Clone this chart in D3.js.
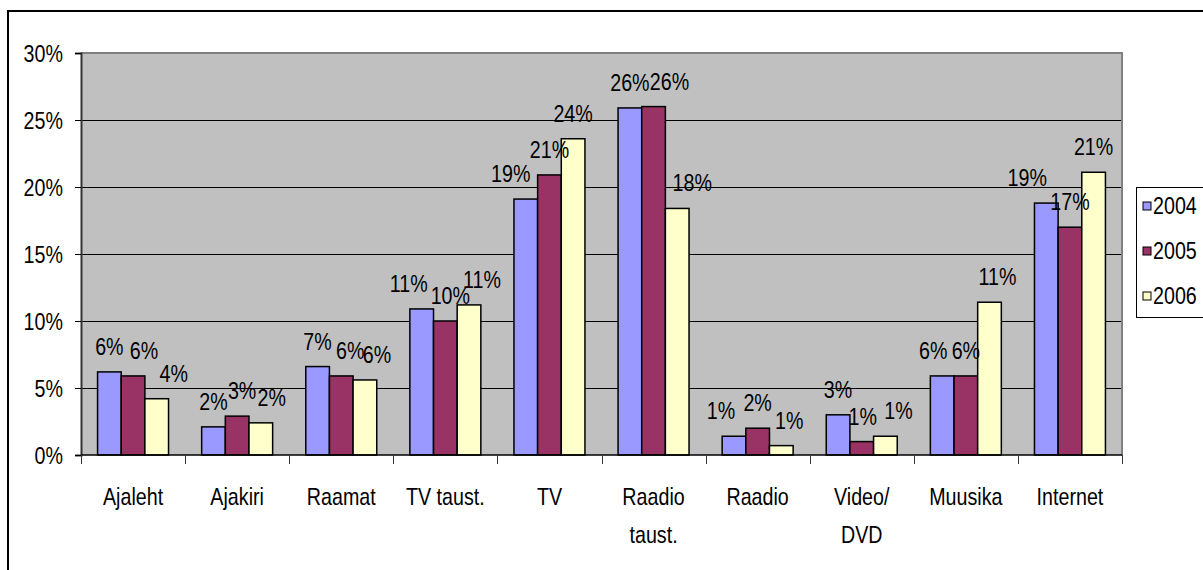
<!DOCTYPE html>
<meta charset="utf-8">

<head>
    <title>Meedia kasutus 2004-2006</title>
    <script type="text/javascript" src="https://cdn.jsdelivr.net/npm/d3@7"></script>
    <style>
        body {
            margin: 0;
            background: #fff;
        }

        text {
            font-family: "Liberation Sans", Arial, sans-serif;
            font-size: 24px;
            fill: #000;
        }
    </style>
</head>

<body>
    <div id="chart"></div>

    <script>
        // data (percent)
        var categories = ["Ajaleht", "Ajakiri", "Raamat", "TV taust.", "TV", "Raadio\ntaust.", "Raadio", "Video/\nDVD", "Muusika", "Internet"];
        var seriesNames = ["2004", "2005", "2006"];
        var s2004 = [6.2, 2.1, 6.6, 10.9, 19.1, 25.9, 1.4, 3.0, 5.9, 18.8];
        var s2005 = [5.9, 2.9, 5.9, 10.0, 20.9, 26.0, 2.0, 1.0, 5.9, 17.0];
        var s2006 = [4.2, 2.4, 5.6, 11.2, 23.6, 18.4, 0.7, 1.4, 11.4, 21.1];
        var yTicks = [0, 5, 10, 15, 20, 25, 30];

        var colors = ["#9999FF", "#993366", "#FFFFCC"];

        // small horizontal nudges of the value labels (they do not sit centred in the original)
        var labelDx = [
            [0, 11, 17], [0, 5, 11], [0, 9, 12], [-13, 5, 13], [-15, 0, 0],
            [0, 16, 15], [-13, 0, 8], [0, 1, 13], [-9, 0, 8], [-19, 0, 0]
        ];

        var width = 1203;
        var height = 570;
        var plot = { left: 81, right: 1122, top: 53, bottom: 455 };
        var squeeze = 0.82; // narrow font look

        var svg = d3.select("#chart")
            .append("svg")
            .attr("width", width)
            .attr("height", height);

        var x = d3.scaleBand()
            .domain(categories)
            .range([plot.left, plot.right])
            .padding(0);

        var x1 = d3.scaleBand()
            .domain(seriesNames)
            .range([0, x.bandwidth()])
            .paddingInner(0)
            .paddingOuter(0.7);

        var y = d3.scaleLinear()
            .domain([0, 30])
            .range([plot.bottom, plot.top]);

        function label(g, px, py, str, anchor) {
            return g.append("text")
                .attr("transform", "translate(" + px + "," + py + ") scale(" + squeeze + ",1)")
                .attr("text-anchor", anchor)
                .text(str);
        }

        // outer frame
        svg.append("rect")
            .attr("x", 8).attr("y", 11)
            .attr("width", 1210).attr("height", 580)
            .attr("fill", "none")
            .attr("stroke", "#000")
            .attr("stroke-width", 2);

        // plot area
        svg.append("rect")
            .attr("x", plot.left).attr("y", plot.top)
            .attr("width", plot.right - plot.left)
            .attr("height", plot.bottom - plot.top)
            .attr("fill", "#C0C0C0");

        // gridlines
        svg.append("g")
            .selectAll("line")
            .data(yTicks.filter(function (t) { return t > 0 && t < 30; }))
            .enter()
            .append("line")
            .attr("x1", plot.left).attr("x2", plot.right)
            .attr("y1", function (d) { return Math.round(y(d)) + 0.5; })
            .attr("y2", function (d) { return Math.round(y(d)) + 0.5; })
            .attr("stroke", "#000")
            .attr("stroke-width", 1);

        // plot border top / right
        svg.append("path")
            .attr("d", "M" + plot.left + "," + plot.top + "H" + plot.right + "V" + plot.bottom)
            .attr("fill", "none")
            .attr("stroke", "#808080")
            .attr("stroke-width", 2);

        // bars
        var series = [s2004, s2005, s2006];
        var groups = svg.append("g")
            .selectAll("g")
            .data(categories)
            .enter()
            .append("g")
            .attr("transform", function (c) { return "translate(" + x(c) + ",0)"; });

        groups.selectAll("rect")
            .data(function (c, i) {
                return series.map(function (s, k) { return { name: seriesNames[k], value: s[i], k: k }; });
            })
            .enter()
            .append("rect")
            .attr("x", function (d) { return x1(d.name); })
            .attr("y", function (d) { return y(d.value); })
            .attr("width", x1.bandwidth())
            .attr("height", function (d) { return y(0) - y(d.value); })
            .attr("fill", function (d) { return colors[d.k]; })
            .attr("stroke", "#000")
            .attr("stroke-width", 1.5);

        // y axis
        var yAxis = d3.axisLeft(y)
            .tickValues(yTicks)
            .tickSize(6)
            .tickFormat(function (d) { return d + "%"; });

        var yg = svg.append("g")
            .attr("transform", "translate(" + plot.left + ",0)")
            .call(yAxis);
        yg.selectAll("text").remove();
        yg.select(".domain").attr("stroke", "#333").attr("stroke-width", 2);
        yg.selectAll(".tick line").attr("stroke", "#000");

        yTicks.forEach(function (t) {
            label(svg, 63, y(t) + 9, t + "%", "end");
        });

        // x axis line and category boundary ticks
        svg.append("line")
            .attr("x1", plot.left).attr("x2", plot.right)
            .attr("y1", plot.bottom).attr("y2", plot.bottom)
            .attr("stroke", "#000")
            .attr("stroke-width", 1.5);

        var bounds = categories.map(function (c) { return x(c); }).concat([x.range()[1]]);
        svg.append("g")
            .selectAll("line")
            .data(bounds)
            .enter()
            .append("line")
            .attr("x1", function (d) { return Math.round(d) + 0.5; })
            .attr("x2", function (d) { return Math.round(d) + 0.5; })
            .attr("y1", plot.bottom)
            .attr("y2", plot.bottom + 9)
            .attr("stroke", "#333")
            .attr("stroke-width", 1);

        // category labels
        categories.forEach(function (c) {
            c.split("\n").forEach(function (line, j) {
                label(svg, x(c) + x.bandwidth() / 2, 505 + j * 38, line, "middle");
            });
        });

        // value labels
        categories.forEach(function (c, i) {
            series.forEach(function (s, k) {
                var cx = x(c) + x1(seriesNames[k]) + x1.bandwidth() / 2 + labelDx[i][k];
                label(svg, cx, y(s[i]) - 17, Math.round(s[i]) + "%", "middle");
            });
        });

        // legend
        var legend = svg.append("g")
            .attr("class", "legend")
            .attr("transform", "translate(1136,187)");

        legend.append("rect")
            .attr("x", 0.5).attr("y", 0.5)
            .attr("width", 100).attr("height", 130)
            .attr("fill", "#fff")
            .attr("stroke", "#000")
            .attr("stroke-width", 1);

        seriesNames.forEach(function (n, k) {
            legend.append("rect")
                .attr("x", 7).attr("y", 15 + k * 45)
                .attr("width", 8).attr("height", 8)
                .attr("fill", colors[k])
                .attr("stroke", "#000")
                .attr("stroke-width", 1);
            label(legend, 17, 27 + k * 45, n, "start");
        });
    </script>

</body>

</html>
